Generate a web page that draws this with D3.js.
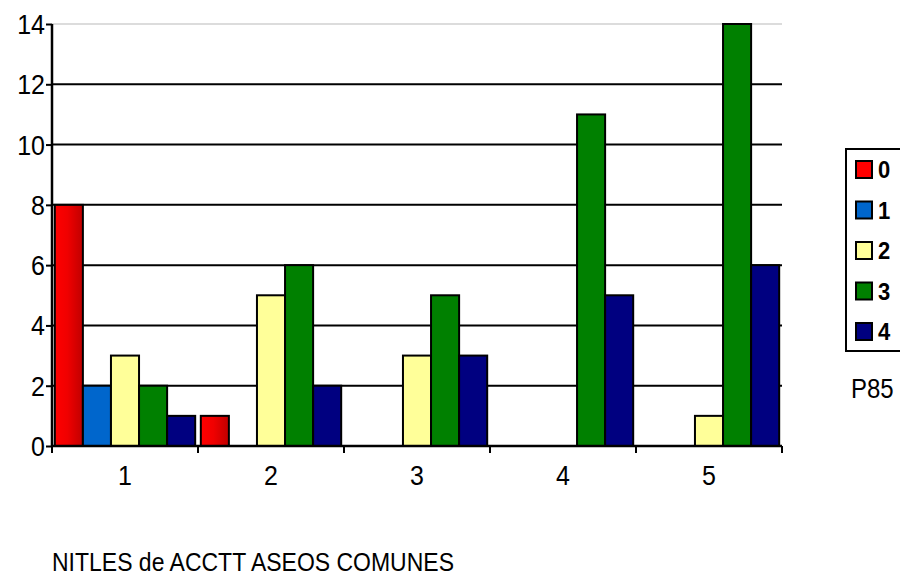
<!DOCTYPE html>
<html>
<head>
<meta charset="utf-8">
<script src="https://cdn.jsdelivr.net/npm/d3@7"></script>
<style>
  html, body { margin: 0; padding: 0; background: #fff; }
  svg { display: block; font-family: Arial, "Liberation Sans", sans-serif; }
</style>
</head>
<body>
<svg id="chart" width="900" height="575"></svg>
<script>
// Categories along the x axis
const categories = ["1", "2", "3", "4", "5"];
// Series names (legend keys) and their fills
const seriesNames = ["0", "1", "2", "3", "4"];
const seriesColors = ["#ff0000", "#0066cc", "#ffff99", "#008000", "#000080"];
// Counts per series, one value per category
const series0 = [8, 1, 0, 0, 0];
const series1 = [2, 0, 0, 0, 0];
const series2 = [3, 5, 3, 0, 1];
const series3 = [2, 6, 5, 11, 14];
const series4 = [1, 2, 3, 5, 6];
const seriesValues = [series0, series1, series2, series3, series4];
// Y axis ticks
const yTicks = [0, 2, 4, 6, 8, 10, 12, 14];
const titleText = "NITLES de ACCTT ASEOS COMUNES";
const noteText = "P85";

const svg = d3.select("#chart");
const STRETCH = 1.12; // text is drawn slightly taller than wide

function label(g, x, yy, str, size, anchor, weight) {
  return g.append("text")
    .attr("transform", `translate(${x},${yy}) scale(1,${STRETCH})`)
    .attr("text-anchor", anchor || "start")
    .attr("font-size", size)
    .attr("font-weight", weight || "normal")
    .attr("fill", "#000")
    .text(str);
}

const x0 = d3.scaleBand().domain(categories).range([52, 782]).paddingInner(0).paddingOuter(0);
const x1 = d3.scaleBand().domain(seriesNames).range([0, x0.bandwidth()]).paddingInner(0).paddingOuter(0.1);
const y = d3.scaleLinear().domain([0, 14]).range([446, 24]);

// Gradient used on the red series
const defs = svg.append("defs");
const grad = defs.append("linearGradient").attr("id", "redGrad")
  .attr("x1", "0%").attr("x2", "100%").attr("y1", "0%").attr("y2", "0%");
grad.append("stop").attr("offset", "0%").attr("stop-color", "#ff0000");
grad.append("stop").attr("offset", "45%").attr("stop-color", "#f00000");
grad.append("stop").attr("offset", "100%").attr("stop-color", "#c00000");

// Horizontal gridlines
svg.append("g").selectAll("line")
  .data(yTicks.filter(t => t > 0))
  .join("line")
  .attr("x1", 52).attr("x2", 782)
  .attr("y1", d => y(d)).attr("y2", d => y(d))
  .attr("stroke", d => d === 14 ? "#d0d0d0" : "#000")
  .attr("stroke-width", d => d === 14 ? 1.5 : 2);

// Bars
const rows = [];
categories.forEach((c, ci) => {
  seriesNames.forEach((s, si) => {
    const v = seriesValues[si][ci];
    if (v > 0) rows.push({ c, s, si, v });
  });
});
svg.append("g").selectAll("rect")
  .data(rows)
  .join("rect")
  .attr("x", d => x0(d.c) + x1(d.s))
  .attr("y", d => y(d.v))
  .attr("width", x1.bandwidth())
  .attr("height", d => y(0) - y(d.v))
  .attr("fill", d => d.si === 0 ? "url(#redGrad)" : seriesColors[d.si])
  .attr("stroke", "#000")
  .attr("stroke-width", 2);

// Y axis: line and ticks from the axis generator, labels drawn separately
const yAxis = d3.axisLeft(y).tickValues(yTicks).tickSize(6).tickFormat("");
const gy = svg.append("g").attr("transform", "translate(52,0)").call(yAxis);
gy.select(".domain").attr("stroke", "#000").attr("stroke-width", 2.5).attr("d", "M0,24V446");
gy.selectAll(".tick line").attr("stroke", "#000").attr("stroke-width", 2);
const gyl = svg.append("g");
yTicks.forEach(t => label(gyl, 45, y(t) + 10, String(t), 25, "end"));

// X axis: boundary ticks between categories, labels centred in bands
const gx = svg.append("g");
gx.append("line").attr("x1", 52).attr("x2", 782).attr("y1", y(0)).attr("y2", y(0))
  .attr("stroke", "#000").attr("stroke-width", 2.5);
const bounds = categories.map(c => x0(c)).concat([x0.range()[1]]);
gx.selectAll("line.b").data(bounds).join("line").attr("class", "b")
  .attr("x1", d => d).attr("x2", d => d)
  .attr("y1", y(0)).attr("y2", y(0) + 7)
  .attr("stroke", "#000").attr("stroke-width", 2);
categories.forEach(c => label(gx, x0(c) + x0.bandwidth() / 2, 485, c, 25, "middle"));

// Legend
const lg = svg.append("g");
lg.append("rect").attr("x", 846).attr("y", 149).attr("width", 80).attr("height", 202)
  .attr("fill", "#fff").attr("stroke", "#000").attr("stroke-width", 2);
seriesNames.forEach((s, i) => {
  const ty = 161 + i * 40.5;
  lg.append("rect").attr("x", 856).attr("y", ty).attr("width", 16).attr("height", 17)
    .attr("fill", seriesColors[i]).attr("stroke", "#000").attr("stroke-width", 2);
  label(lg, 878, ty + 17, s, 22, "start", "bold");
});

// Side note and bottom title
label(svg, 851, 398, noteText, 24, "start");
label(svg, 52, 571, titleText, 23, "start");
</script>
</body>
</html>
